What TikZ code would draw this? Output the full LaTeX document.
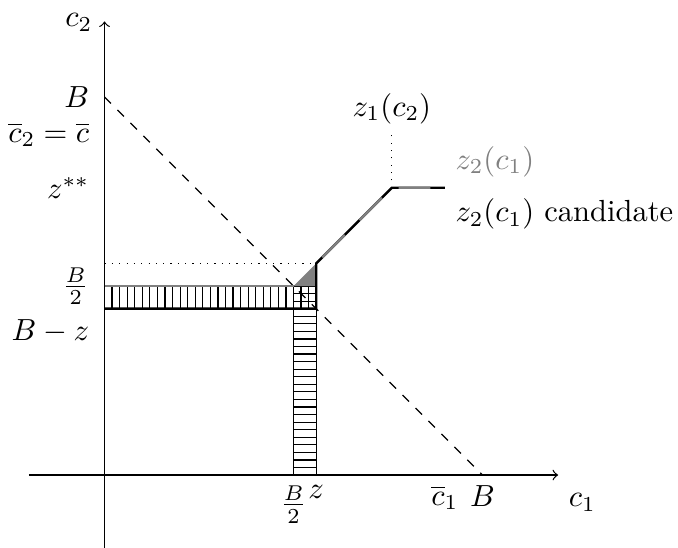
\documentclass[tikz,border=0pt]{standalone}
\usepackage{amsmath,amssymb}
\usetikzlibrary{arrows.meta}

\begin{document}
\begin{tikzpicture}[x=0.435cm,y=0.435cm,>=to,
    hatch/.style={black,line width=0.4pt},
    cand/.style={black,thick},
    zline/.style={gray,thick,dash pattern=on 10.4pt off 6.8pt,dash phase=14.4pt},
    ylab/.style={left=1.5pt}]
  \useasboundingbox (-2.765,-1.905) rectangle (15.17,12.566);
  % axes
  \draw[->] (-2,0) -- (12,0);
  \draw[->] (0,-2) -- (0,12);
  \node (c2lab) at (-0.68,11.98) {$c_2$};
  \node[below right] (c1lab) at (12,-0.2) {$c_1$};
  % budget line
  \draw[dashed] (0,10) -- (10,0);
  % hatched strips
  \foreach \i in {1,...,24} \draw[hatch] (5,0.2*\i) -- (5.6,0.2*\i);
  \foreach \i in {1,...,27} \draw[hatch] (0.2*\i,4.4) -- (0.2*\i,5);
  \draw (5,0) -- (5,5) -- (5.6,5);
  \draw (5.6,0) -- (5.6,4.4);
  \draw[gray,thick] (0,5) -- (5,5);
  \fill[gray] (5,5) -- (5.6,5.6) -- (5.6,5) -- cycle;
  % dotted guides
  \draw[dotted] (0,5.6) -- (5.6,5.6);
  \draw[dotted] (7.6,7.6) -- (7.6,9);
  % the two curves
  \draw[cand] (0,4.4) -- (5.6,4.4) -- (5.6,5.6) -- (7.6,7.6) -- (9,7.6);
  \draw[zline] (5.6,5.6) -- (7.6,7.6) -- (9,7.6);
  % labels on the axes
  \node[ylab] (Blab) at (0,10) {$B$};
  \node[ylab] (cbarlab) at (0,9) {$\overline{c}_2=\overline{c}$};
  \node[ylab] (zsslab) at (0,7.6) {$z^{**}$};
  \node[ylab] (halfy) at (0,5) {$\frac{B}{2}$};
  \node[below left,xshift=-1.5pt] (Bzlab) at (0,4.4) {$B-z$};
  \node[below] (halfx) at (5,0) {$\frac{B}{2}$};
  \node[below] (zlab) at (5.6,0) {$z$};
  \node[below] (cbarx) at (9,0) {$\overline{c}_1$};
  \node[below] (Bx) at (10,0) {$B$};
  % curve labels
  \node[above] (z1lab) at (7.6,9) {$z_1(c_2)$};
  \node[gray,above right] (z2lab) at (9,7.6) {$z_2(c_1)$};
  \node[below right] (candlab) at (9,7.6) {$z_2(c_1)$ candidate};
\end{tikzpicture}
\end{document}
